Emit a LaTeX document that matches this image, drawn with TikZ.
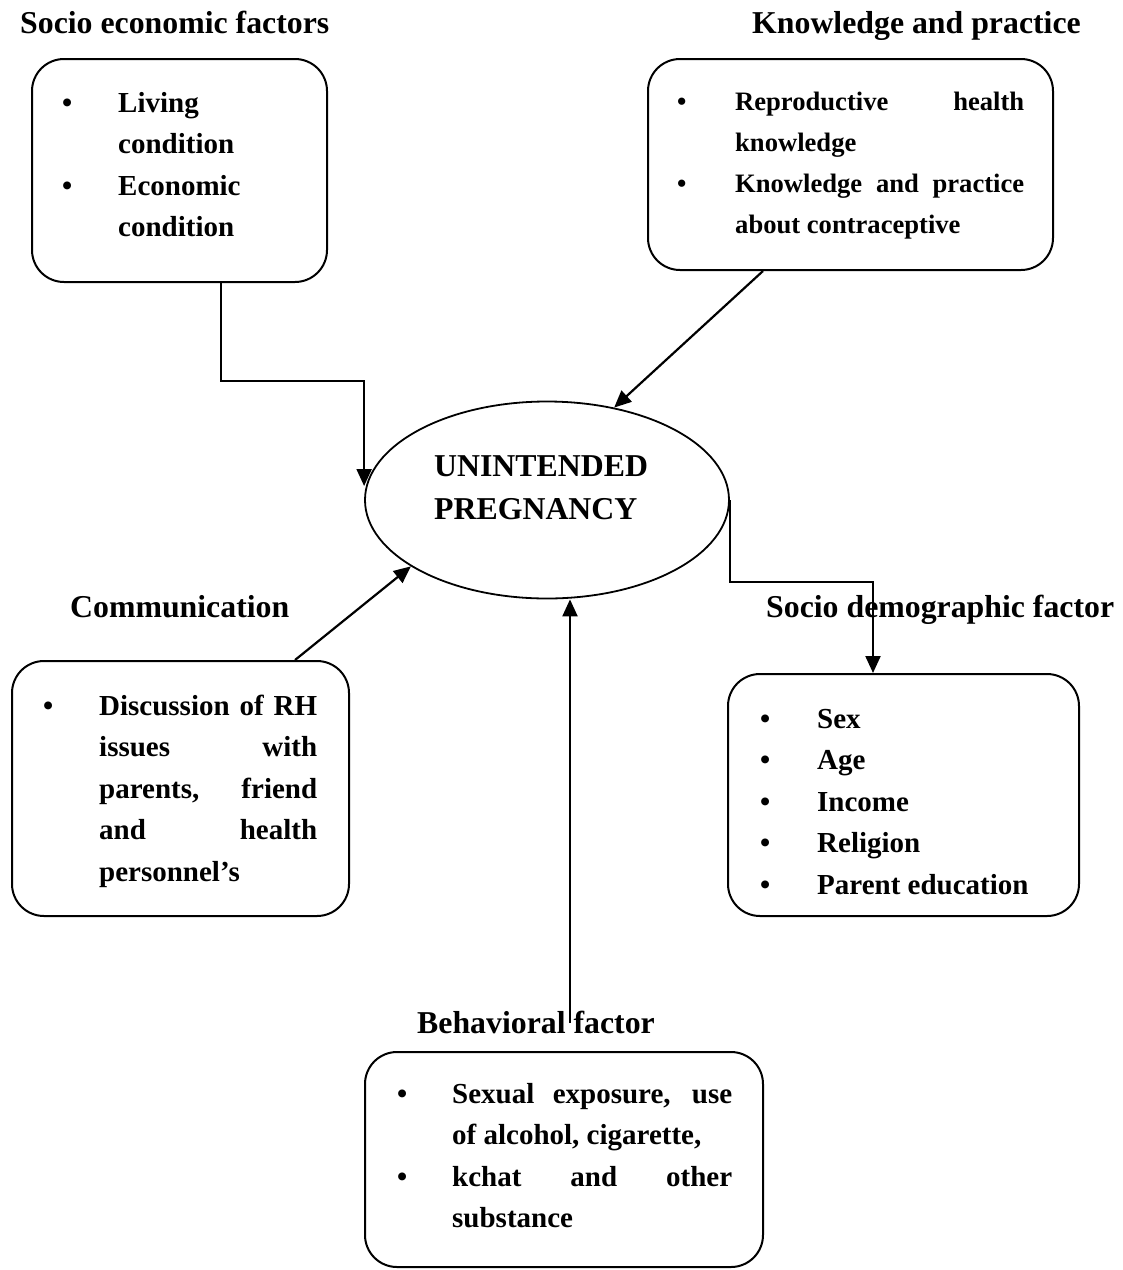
\documentclass[tikz,border=0pt]{standalone}
\usepackage{fontspec}
\setmainfont{Liberation Serif}
\usetikzlibrary{positioning,shapes.geometric,arrows.meta}
\newcommand{\bfont}{\fontsize{29}{41.5}\selectfont\bfseries}
\newcommand{\kfont}{\fontsize{26.6}{41}\selectfont\bfseries}
\newcommand{\tfont}{\fontsize{31.8}{43}\selectfont\bfseries}
\newcommand{\jl}[2]{\makebox[#1][s]{#2}}

\begin{document}
\begin{tikzpicture}[x=1pt,y=-1pt,
  box/.style={draw,line width=2pt,rounded corners=32pt,inner sep=0pt},
  ttl/.style={inner sep=0pt,anchor=base west,font=\tfont},
  txt/.style={inner sep=0pt,anchor=base west,font=\bfont},
  flow/.style={line width=2.2pt,-{Triangle[length=17pt,width=15pt]}}]
\path[fill=white,use as bounding box] (0,0) rectangle (1123,1270);
\node[box,minimum width=295pt,minimum height=223pt] (seco) at (179.5,170.5) {};
\node[box,minimum width=405pt,minimum height=211pt] (know) at (850.5,164.5) {};
\node[box,minimum width=337pt,minimum height=255pt] (comm) at (180.5,788.5) {};
\node[box,minimum width=351pt,minimum height=242pt] (demo) at (903.5,795) {};
\node[box,minimum width=398pt,minimum height=215pt] (beh) at (564,1159.5) {};
\node[draw,ellipse,line width=1.8pt,minimum width=364pt,minimum height=197pt,inner sep=0pt] (preg) at (547,500) {};
\node[ttl] (pregt) at (434,476) {\begin{tabular}[t]{@{}l@{}}UNINTENDED\\PREGNANCY\end{tabular}};
\node[ttl] (secot) at (20,33) {Socio economic factors};
\node[ttl] (knowt) at (752,33) {Knowledge and practice};
\node[ttl] (commt) at (70,617) {Communication};
\node[ttl] (demot) at (766,617) {Socio demographic factor};
\node[ttl] (beht) at (417,1033) {Behavioral factor};
\node[txt] (secol) at (62,112) {\begin{tabular}[t]{@{}p{56pt}@{}l@{}}
\textbullet & Living\\ & condition\\ \textbullet & Economic\\ & condition\end{tabular}};
\node[txt,font=\kfont] (knowl) at (677,110) {\begin{tabular}[t]{@{}p{58pt}@{}l@{}}
\textbullet & \jl{289pt}{Reproductive health}\\ & knowledge\\
\textbullet & \jl{289pt}{Knowledge and practice}\\ & about contraceptive\end{tabular}};
\node[txt] (comml) at (43,715) {\begin{tabular}[t]{@{}p{56pt}@{}l@{}}
\textbullet & \jl{218pt}{Discussion of RH}\\ & \jl{218pt}{issues with}\\
 & \jl{218pt}{parents, friend}\\ & \jl{218pt}{and health}\\ & personnel’s\end{tabular}};
\node[txt] (demol) at (760,728) {\begin{tabular}[t]{@{}p{57pt}@{}l@{}}
\textbullet & Sex\\ \textbullet & Age\\ \textbullet & Income\\
\textbullet & Religion\\ \textbullet & Parent education\end{tabular}};
\node[txt] (behl) at (397,1103) {\begin{tabular}[t]{@{}p{55pt}@{}l@{}}
\textbullet & \jl{280pt}{Sexual exposure, use}\\ & of alcohol, cigarette,\\
\textbullet & \jl{280pt}{kchat and other}\\ & substance\end{tabular}};
\coordinate (behtop) at (570,1023);
\draw[flow] ([xshift=41.5pt]seco.south) -- ++(0,98) -| ([yshift=14pt]preg.west);
\draw[flow] ([xshift=-87.5pt]know.south) -- (preg.54);
\draw[flow] ([xshift=114.5pt]comm.north) -- (preg.206.7);
\draw[flow] (preg.east) -- ++(0,82) -| ([xshift=-30.5pt]demo.north);
\draw[flow] (behtop) -- (behtop |- preg.south);
\end{tikzpicture}
\end{document}
